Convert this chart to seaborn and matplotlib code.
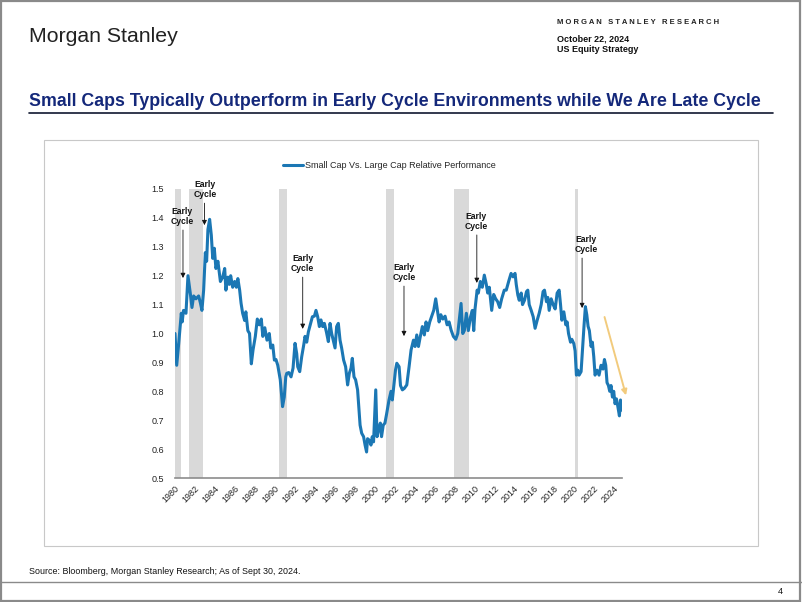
import matplotlib
matplotlib.use("Agg")
import matplotlib.pyplot as plt
from matplotlib.patches import Rectangle
from matplotlib.lines import Line2D
import seaborn as sns
import pandas as pd

sns.set_style("white")
plt.rcParams['font.family'] = ['Liberation Sans', 'DejaVu Sans']

# small cap / large cap relative performance (decimal years)
years = [
    1980.00, 1980.17, 1980.37, 1980.55, 1980.63, 1980.72, 1980.85, 1980.97, 1981.10, 1981.30,
    1981.42, 1981.53, 1981.70, 1981.87, 1982.10, 1982.37, 1982.55, 1982.70, 1982.87, 1983.04,
    1983.17, 1983.30, 1983.47, 1983.64, 1983.78, 1983.94, 1984.10, 1984.30, 1984.55, 1984.78,
    1984.98, 1985.10, 1985.30, 1985.45, 1985.58, 1985.78, 1985.98, 1986.15, 1986.30, 1986.48,
    1986.62, 1986.78, 1986.98, 1987.10, 1987.30, 1987.47, 1987.65, 1987.82, 1988.05, 1988.25,
    1988.45, 1988.65, 1988.80, 1989.00, 1989.22, 1989.45, 1989.60, 1989.80, 1989.96, 1990.12,
    1990.30, 1990.55, 1990.78, 1990.95, 1991.10, 1991.20, 1991.40, 1991.63, 1991.83, 1992.03,
    1992.20, 1992.30, 1992.50, 1992.70, 1992.90, 1993.03, 1993.20, 1993.37, 1993.63, 1993.77,
    1993.97, 1994.13, 1994.30, 1994.47, 1994.63, 1994.80, 1994.97, 1995.17, 1995.37, 1995.54,
    1995.70, 1995.90, 1996.04, 1996.20, 1996.37, 1996.54, 1996.70, 1996.90, 1997.10, 1997.30,
    1997.47, 1997.64, 1997.77, 1997.94, 1998.10, 1998.30, 1998.55, 1998.71, 1998.90, 1999.05,
    1999.20, 1999.30, 1999.50, 1999.64, 1999.77, 1999.90, 2000.12, 2000.25, 2000.40, 2000.58,
    2000.70, 2000.87, 2001.04, 2001.20, 2001.45, 2001.65, 2001.78, 2001.90, 2002.10, 2002.23,
    2002.46, 2002.60, 2002.79, 2002.98, 2003.23, 2003.46, 2003.66, 2003.90, 2004.06, 2004.23,
    2004.40, 2004.56, 2004.79, 2004.99, 2005.16, 2005.33, 2005.53, 2005.73, 2005.93, 2006.13,
    2006.30, 2006.47, 2006.64, 2006.84, 2007.07, 2007.27, 2007.47, 2007.67, 2007.90, 2008.14,
    2008.34, 2008.50, 2008.67, 2008.84, 2009.00, 2009.20, 2009.40, 2009.60, 2009.80, 2009.94,
    2010.07, 2010.28, 2010.40, 2010.60, 2010.80, 2011.00, 2011.20, 2011.34, 2011.50, 2011.74,
    2011.94, 2012.14, 2012.34, 2012.54, 2012.74, 2013.00, 2013.20, 2013.48, 2013.68, 2013.88,
    2014.08, 2014.20, 2014.36, 2014.50, 2014.70, 2014.83, 2015.03, 2015.23, 2015.36, 2015.50,
    2015.70, 2015.90, 2016.09, 2016.30, 2016.50, 2016.70, 2016.89, 2017.03, 2017.23, 2017.36,
    2017.50, 2017.70, 2017.90, 2018.10, 2018.30, 2018.50, 2018.64, 2018.77, 2018.97, 2019.17,
    2019.30, 2019.44, 2019.64, 2019.77, 2019.97, 2020.10, 2020.23, 2020.37, 2020.50, 2020.70,
    2020.83, 2021.00, 2021.13, 2021.27, 2021.40, 2021.53, 2021.70, 2021.83, 2021.97, 2022.10,
    2022.30, 2022.50, 2022.70, 2022.90, 2023.04, 2023.17, 2023.30, 2023.44, 2023.57, 2023.70,
    2023.84, 2023.97, 2024.10, 2024.24, 2024.37, 2024.54, 2024.65, 2024.75,
]
rel_perf = [
    1.000, 0.890, 0.965, 1.040, 1.070, 1.040, 1.080, 1.075, 1.070, 1.200,
    1.170, 1.140, 1.090, 1.130, 1.120, 1.130, 1.105, 1.080, 1.150, 1.280,
    1.250, 1.360, 1.395, 1.340, 1.260, 1.295, 1.225, 1.250, 1.180, 1.195,
    1.225, 1.150, 1.195, 1.170, 1.200, 1.160, 1.180, 1.160, 1.190, 1.150,
    1.105, 1.070, 1.045, 1.075, 1.010, 1.000, 0.895, 0.943, 0.990, 1.050,
    1.030, 1.050, 0.990, 1.020, 0.977, 1.000, 0.950, 0.960, 0.908, 0.910,
    0.890, 0.840, 0.747, 0.780, 0.850, 0.862, 0.865, 0.850, 0.880, 0.966,
    0.930, 0.885, 0.868, 0.920, 0.960, 0.990, 0.970, 1.006, 1.040, 1.058,
    1.060, 1.080, 1.058, 1.024, 1.047, 1.024, 1.035, 1.006, 0.972, 1.035,
    1.000, 0.970, 0.950, 1.024, 1.035, 0.977, 0.950, 0.908, 0.885, 0.822,
    0.862, 0.880, 0.914, 0.850, 0.840, 0.805, 0.683, 0.655, 0.643, 0.614,
    0.590, 0.636, 0.630, 0.614, 0.643, 0.625, 0.805, 0.643, 0.667, 0.690,
    0.643, 0.683, 0.690, 0.720, 0.770, 0.800, 0.770, 0.810, 0.874, 0.897,
    0.885, 0.820, 0.805, 0.810, 0.822, 0.885, 0.943, 0.977, 0.955, 0.995,
    0.955, 0.985, 1.024, 0.995, 1.040, 1.010, 1.040, 1.060, 1.080, 1.120,
    1.080, 1.040, 1.065, 1.050, 1.060, 1.030, 1.040, 1.012, 0.990, 0.980,
    1.000, 1.050, 1.104, 1.000, 1.010, 1.070, 1.010, 1.055, 1.080, 1.010,
    1.085, 1.150, 1.140, 1.180, 1.160, 1.202, 1.170, 1.140, 1.160, 1.080,
    1.135, 1.120, 1.110, 1.090, 1.120, 1.150, 1.150, 1.185, 1.208, 1.196,
    1.208, 1.170, 1.133, 1.115, 1.140, 1.100, 1.115, 1.145, 1.150, 1.100,
    1.080, 1.058, 1.018, 1.046, 1.070, 1.100, 1.145, 1.150, 1.110, 1.125,
    1.080, 1.120, 1.100, 1.085, 1.140, 1.150, 1.100, 1.046, 1.075, 1.030,
    1.040, 1.000, 0.970, 0.980, 0.965, 0.940, 0.856, 0.873, 0.856, 0.868,
    0.940, 1.030, 1.093, 1.065, 1.025, 1.010, 0.955, 0.970, 0.920, 0.856,
    0.873, 0.856, 0.890, 0.877, 0.910, 0.890, 0.830, 0.820, 0.800, 0.820,
    0.780, 0.800, 0.757, 0.774, 0.750, 0.715, 0.770, 0.735,
]

recession_start = [1980.00, 1981.45, 1990.47, 2001.15, 2007.98, 2020.10]
recession_end = [1980.58, 1982.84, 1991.22, 2001.92, 2009.50, 2020.36]

# "Early Cycle" callouts: text position, arrow start and arrow tip
early_text_x = [1980.7, 1983.0, 1992.8, 2002.95, 2010.15, 2021.2]
early_text_y = [1.372, 1.465, 1.209, 1.178, 1.355, 1.275]
early_arrow_x = [1980.8, 1982.95, 1992.8, 2002.95, 2010.25, 2020.8]
early_tip_y = [1.192, 1.375, 1.016, 0.991, 1.175, 1.088]

x_ticks = list(range(1980, 2025, 2))
y_ticks = [0.5, 0.6, 0.7, 0.8, 0.9, 1.0, 1.1, 1.2, 1.3, 1.4, 1.5]

W, H = 802, 602
BLUE = "#1B77B4"
NAVY = "#14287A"


def fx(px):
    return px / W


def fy(py):
    return 1 - py / H


df = pd.DataFrame({"year": years, "value": rel_perf})

fig = plt.figure(figsize=(W / 100, H / 100), dpi=100)
fig.patch.set_facecolor("white")

# page frame, chart box and rules
fig.patches.append(Rectangle((0.001, 0.001), 0.997, 0.997, transform=fig.transFigure,
                             fill=False, edgecolor="#8A8A8A", linewidth=1.6))
fig.patches.append(Rectangle((fx(44), fy(546)), fx(758) - fx(44), fy(140) - fy(546),
                             transform=fig.transFigure, fill=False,
                             edgecolor="#C8C8C8", linewidth=0.8))
fig.lines.append(Line2D([fx(29), fx(773)], [fy(113), fy(113)], transform=fig.transFigure,
                        color="#101830", linewidth=1.2))
fig.lines.append(Line2D([0, 1], [fy(582), fy(582)], transform=fig.transFigure,
                        color="#8A8A8A", linewidth=1.0))

# header
fig.text(fx(29), fy(36), "Morgan Stanley", fontsize=15.3, color="#222222",
         ha="left", va="center")
fig.text(fx(557), fy(23), "M O R G A N   S T A N L E Y   R E S E A R C H", fontsize=5.5,
         fontweight="bold", color="#222222", ha="left", va="center")
fig.text(fx(557), fy(39), "October 22, 2024", fontsize=6.5, fontweight="bold",
         color="#111111", ha="left", va="center")
fig.text(fx(557), fy(50), "US Equity Strategy", fontsize=6.5, fontweight="bold",
         color="#111111", ha="left", va="center")
fig.text(fx(29), fy(101), "Small Caps Typically Outperform in Early Cycle Environments while We Are Late Cycle",
         fontsize=12.8, fontweight="bold", color=NAVY, ha="left", va="center")
fig.text(fx(29), fy(572), "Source: Bloomberg, Morgan Stanley Research; As of Sept 30, 2024.",
         fontsize=6.4, color="#111111", ha="left", va="center")
fig.text(fx(780), fy(591), "4", fontsize=6.5, color="#111111", ha="center", va="center")

# chart
ax = fig.add_axes([fx(175), fy(478), fx(622) - fx(175), fy(189) - fy(478)])
for s, e in zip(recession_start, recession_end):
    ax.axvspan(s, e, color="#D9D9D9", lw=0, zorder=0)

sns.lineplot(data=df, x="year", y="value", ax=ax, color=BLUE, linewidth=2.2,
             label="Small Cap Vs. Large Cap Relative Performance", zorder=3)

for tx, ty, axx, tip in zip(early_text_x, early_text_y, early_arrow_x, early_tip_y):
    ax.text(tx, ty, "Early\nCycle", fontsize=6.2, fontweight="bold", ha="center",
            va="bottom", linespacing=1.15, color="#111111", zorder=5)
    ax.annotate("", xy=(axx, tip), xytext=(axx, ty - 0.014),
                arrowprops=dict(arrowstyle="-|>", color="#111111", lw=0.6,
                                mutation_scale=7, shrinkA=0, shrinkB=0), zorder=5)

# late-cycle down arrow
ax.annotate("", xy=(2025.2, 0.786), xytext=(2023.05, 1.057), annotation_clip=False,
            arrowprops=dict(arrowstyle="-|>", color="#F2CB7D", lw=1.4,
                            mutation_scale=8, shrinkA=0, shrinkB=0))

ax.set_xlim(1980, 2024.8)
ax.set_ylim(0.5, 1.5)
ax.set_xticks(x_ticks)
ax.set_xticklabels([str(t) for t in x_ticks], rotation=45, ha="right", va="top",
                   rotation_mode="anchor", fontsize=6.5, color="#222222")
ax.set_yticks(y_ticks)
ax.set_yticklabels([f"{v:.1f}" for v in y_ticks], fontsize=6.5, color="#222222")
ax.tick_params(axis="both", length=0)
ax.tick_params(axis="y", pad=8)
ax.tick_params(axis="x", pad=4)
ax.set_xlabel("")
ax.set_ylabel("")
for side in ["left", "right", "top"]:
    ax.spines[side].set_visible(False)
ax.spines["bottom"].set_color("#8C8C8C")
ax.spines["bottom"].set_linewidth(1.2)
ax.set_facecolor("none")

ax.legend(loc="center left", bbox_to_anchor=(fx(283), fy(166)),
          bbox_transform=fig.transFigure, frameon=False, fontsize=6.5,
          handlelength=2.2, handletextpad=0.25, borderpad=0, borderaxespad=0)

fig.savefig("out.png", dpi=100)
